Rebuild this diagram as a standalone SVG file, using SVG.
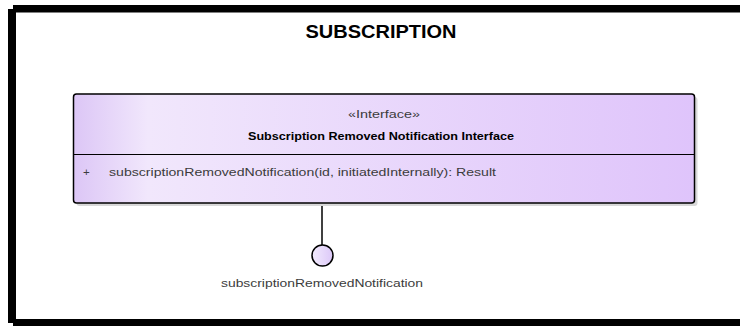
<svg xmlns="http://www.w3.org/2000/svg" width="740" height="326" viewBox="0 0 740 326">
<style>
.t{font-family:"Liberation Sans",Arial,sans-serif;}
.lbl{font-size:11.5px;fill:#3c3c3c;}
.bold{font-weight:bold;fill:#000;}
.edge{stroke:#000;stroke-width:1.5;fill:none;}
.fr{fill:#000;}
</style>
<defs>
<linearGradient id="boxg" x1="0" y1="0" x2="1" y2="0">
<stop offset="0" stop-color="#dcc6f6"/>
<stop offset="0.12" stop-color="#f1e7fc"/>
<stop offset="1" stop-color="#dfc4fb"/>
</linearGradient>
<linearGradient id="circg" x1="0" y1="0" x2="1" y2="0">
<stop offset="0" stop-color="#f2ebfd"/>
<stop offset="1" stop-color="#dcc8f8"/>
</linearGradient>
</defs>
<rect x="0" y="0" width="740" height="326" fill="#fff"/>
<g id="frame">
<rect class="fr" x="13" y="5" width="727" height="7.5"/>
<rect class="fr" x="8" y="9" width="8" height="314"/>
<rect class="fr" x="13" y="319" width="727" height="7"/>
<text class="t bold" x="381" y="38" font-size="18" text-anchor="middle" textLength="151" lengthAdjust="spacingAndGlyphs">SUBSCRIPTION</text>
</g>
<g id="connectors">
<line class="edge" x1="322" y1="203" x2="322" y2="245"/>
</g>
<g id="interface">
<rect x="76.5" y="97" width="621" height="109" rx="3" fill="#d8d8d8"/>
<rect x="73.5" y="94" width="621" height="109" rx="3" fill="url(#boxg)" stroke="#000" stroke-width="1.5"/>
<line x1="73.5" y1="154.5" x2="694.5" y2="154.5" stroke="#000" stroke-width="1.2"/>
<text class="t lbl" x="384" y="118" text-anchor="middle" textLength="72" lengthAdjust="spacingAndGlyphs">«Interface»</text>
<text class="t lbl bold" x="381" y="140" text-anchor="middle" textLength="266" lengthAdjust="spacingAndGlyphs">Subscription Removed Notification Interface</text>
<text class="t lbl" x="83" y="176">+</text>
<text class="t lbl" x="109" y="176" textLength="387" lengthAdjust="spacingAndGlyphs">subscriptionRemovedNotification(id, initiatedInternally): Result</text>
</g>
<g id="port">
<circle cx="322.5" cy="255.5" r="10.5" fill="url(#circg)" stroke="#000" stroke-width="1.5"/>
<text class="t lbl" x="322" y="287" text-anchor="middle" textLength="202" lengthAdjust="spacingAndGlyphs" fill="#222">subscriptionRemovedNotification</text>
</g>
</svg>
